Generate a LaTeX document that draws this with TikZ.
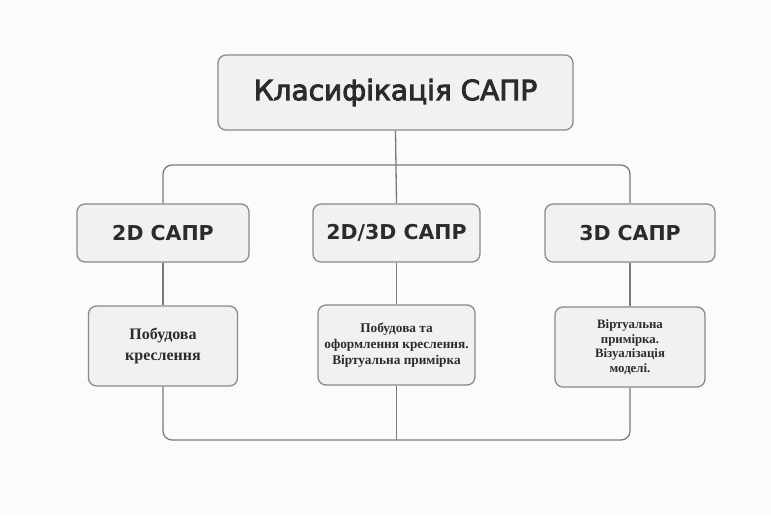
\documentclass[tikz,border=0pt]{standalone}
\usepackage{fontspec}
\setmainfont{Liberation Serif}
\newfontfamily\hdr{DejaVu Sans}
\newfontfamily\ser{Liberation Serif}
\newcommand{\heavytext}[2]{\special{pdf:literal direct 2 Tr #1 w 0.17 0.17 0.17 RG}#2\special{pdf:literal direct 0 Tr}}
\definecolor{boxfill}{HTML}{F1F1F1}
\definecolor{boxline}{HTML}{8A8A8A}
\definecolor{conn}{HTML}{7A7A7A}
\definecolor{txt}{HTML}{2B2B2B}
\definecolor{bg}{HTML}{FBFBFB}
\begin{document}
\begin{tikzpicture}[x=1pt,y=-1pt,
  box/.style={draw=boxline,fill=boxfill,line width=1.3pt,rounded corners=8pt,
    align=center,text=txt,inner sep=2pt},
  topbox/.style={box,minimum width=355pt,minimum height=75pt,
    font=\hdr\fontsize{28}{34}\selectfont},
  midbox/.style={box,minimum height=58pt,font=\hdr\bfseries\fontsize{20.5}{25}\selectfont},
  lowbox/.style={box,minimum height=80pt,minimum width=150pt},
  link/.style={draw=conn,line width=1.3pt}]
\fill[bg] (0,0) rectangle (771,515);
\useasboundingbox (0,0) rectangle (771,515);

\node[topbox] (top) at (395.5,92.5) {\heavytext{0.9}{Класифікація САПР}};

\node[midbox,minimum width=172pt] (l1) at (163,233) {2D САПР};
\node[midbox,minimum width=167pt] (m1) at (396.5,233) {2D/3D САПР};
\node[midbox,minimum width=170pt] (r1) at (630,233) {3D САПР};

\node[lowbox,minimum width=149pt,font=\ser\bfseries\fontsize{16}{21}\selectfont] (l2) at (163,346)
  {Побудова\\креслення};
\node[lowbox,minimum width=157pt,font=\ser\bfseries\fontsize{13.3}{16}\selectfont] (m2) at (396.5,345)
  {Побудова та\\оформлення креслення.\\Віртуальна примірка};
\node[lowbox,minimum width=150pt,font=\ser\bfseries\fontsize{12.8}{14.5}\selectfont] (r2) at (630,347)
  {Віртуальна\\примірка.\\Візуалізація\\моделі.};

\coordinate (bus1) at (396.5,165);
\coordinate (bus2) at (396.5,440);

\draw[link] (top.south) -- (m1.north);
\draw[link,rounded corners=9pt] (l1.north) |- (bus1) -| (r1.north);
\draw[link] (l1.south) -- (l2.north);
\draw[link] (m1.south) -- (m2.north);
\draw[link] (r1.south) -- (r2.north);
\draw[link,rounded corners=9pt] (l2.south) |- (bus2) -| (r2.south);
\draw[link] (m2.south) -- (bus2);
\end{tikzpicture}
\end{document}
